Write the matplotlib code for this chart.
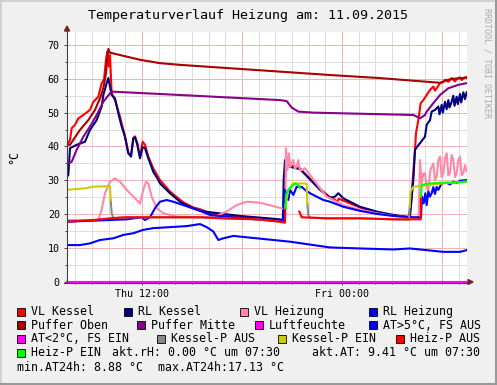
import numpy as np
import matplotlib
matplotlib.use('Agg')
import matplotlib.pyplot as plt
from matplotlib.lines import Line2D
from matplotlib.patches import Rectangle, Polygon

plt.rcParams['font.family'] = 'DejaVu Sans Mono'

W, H = 497, 385
nan = np.nan

title = 'Temperaturverlauf Heizung am: 11.09.2015'
x_ticks = [12, 24]
x_labels = ['Thu 12:00', 'Fri 00:00']
y_ticks = [0, 10, 20, 30, 40, 50, 60, 70]

# (hours since Thu 00:00, degC)
vl_kessel = [(7.50, 40.5), (7.58, 41.0), (7.68, 41.9), (7.78, 45.4), (7.98, 46.4), (8.18, 48.3), (8.48, 49.3),
             (8.88, 50.8), (9.08, 53.2), (9.38, 54.7), (9.58, 58.7), (9.72, 59.7), (9.84, 65.6), (9.92, 68.0),
             (10.00, 63.6), (10.08, 67.0), (10.18, 55.7), (10.38, 53.7), (10.68, 48.8), (10.98, 42.9),
             (11.18, 38.0), (11.34, 37.5), (11.48, 42.5), (11.58, 43.0), (11.72, 41.0), (11.88, 37.0),
             (12.04, 41.4), (12.18, 40.5), (12.38, 37.0), (12.68, 33.5), (13.08, 30.1), (13.68, 26.7),
             (14.48, 23.5), (15.08, 22.0), (15.48, 21.5), (16.08, 20.3), (17.28, 19.5), (18.88, 18.8),
             (20.28, 18.3), (20.50, 18.3), (20.56, 26.2), (20.62, 35.0), (20.88, 34.5), (21.48, 33.5),
             (21.98, 31.0), (22.68, 27.5), (23.28, 25.0), (23.58, 24.3), (23.72, 23.6), (23.80, 24.6),
             (24.08, 24.0), (25.08, 22.0), (26.08, 20.5), (27.08, 19.7), (27.98, 19.2), (28.12, 22.2),
             (28.38, 39.0), (28.44, 43.9), (28.58, 47.8), (28.72, 52.8), (28.88, 53.7), (29.08, 55.2),
             (29.28, 56.7), (29.48, 57.7), (29.58, 56.5), (29.68, 57.2), (29.88, 58.7), (30.08, 59.0),
             (30.18, 59.7), (30.38, 59.1), (30.58, 60.2), (30.78, 59.2), (30.88, 59.9), (31.08, 60.4),
             (31.18, 59.6), (31.32, 60.3), (31.48, 60.5)]

rl_kessel = [(7.50, 31.0), (7.58, 31.6), (7.68, 39.5), (8.08, 40.5), (8.58, 41.4), (8.88, 44.9), (9.28, 47.8),
             (9.58, 51.8), (9.68, 55.2), (9.88, 58.7), (9.98, 60.2), (10.08, 57.7), (10.18, 55.2), (10.38, 54.2),
             (10.58, 49.8), (10.78, 45.9), (10.98, 42.9), (11.18, 38.0), (11.34, 37.0), (11.48, 42.4),
             (11.58, 42.7), (11.72, 40.5), (11.88, 36.5), (12.04, 39.8), (12.18, 39.5), (12.38, 36.5),
             (12.68, 32.5), (12.98, 30.1), (13.08, 29.1), (13.68, 26.2), (14.28, 23.7), (14.88, 22.2),
             (15.48, 21.0), (16.08, 20.6), (17.88, 19.5), (20.28, 18.5), (20.45, 18.3), (20.50, 30.1),
             (20.58, 36.0), (20.88, 34.0), (21.48, 33.3), (21.98, 30.8), (22.68, 27.2), (23.28, 24.9),
             (23.58, 25.2), (23.78, 26.2), (24.08, 24.7), (25.08, 22.2), (26.08, 20.8), (27.08, 19.8),
             (27.98, 19.1), (28.08, 19.3), (28.28, 30.1), (28.38, 39.0), (28.52, 40.0), (28.68, 41.0),
             (28.98, 42.9), (29.08, 46.4), (29.28, 47.8), (29.38, 50.3), (29.58, 50.8), (29.78, 51.8),
             (29.85, 49.5), (29.98, 52.3), (30.05, 50.0), (30.18, 53.2), (30.28, 51.0), (30.38, 53.7),
             (30.45, 51.5), (30.58, 53.2), (30.68, 55.0), (30.75, 52.0), (30.88, 54.7), (30.95, 52.5),
             (31.08, 55.5), (31.15, 53.0), (31.28, 56.0), (31.38, 54.0), (31.48, 56.0)]

vl_heizung = [(7.50, 18.3), (9.38, 18.3), (9.58, 21.3), (9.78, 26.2), (10.08, 29.6), (10.38, 30.6), (10.68, 29.6),
              (11.08, 27.2), (11.48, 25.2), (11.88, 23.2), (12.08, 27.2), (12.24, 29.6), (12.38, 29.1),
              (12.58, 25.2), (12.88, 21.8), (13.28, 20.3), (14.08, 19.3), (15.48, 19.1), (16.48, 19.5),
              (17.08, 20.8), (17.68, 22.7), (18.28, 23.7), (19.08, 23.4), (19.88, 22.4), (20.48, 21.6),
              (20.60, 21.6), (20.64, 39.5), (20.72, 33.0), (20.82, 38.0), (20.90, 34.0), (20.98, 35.0),
              (21.08, 36.0), (21.18, 33.5), (21.28, 34.0), (21.38, 36.0), (21.48, 33.0), (21.58, 33.0),
              (21.78, 33.6), (22.08, 31.6), (22.68, 27.7), (23.08, 25.2), (24.08, 22.7), (25.08, 21.3),
              (26.08, 20.3), (27.08, 19.5), (27.98, 19.1), (28.60, 19.1), (28.68, 36.0), (28.78, 29.1),
              (28.88, 32.0), (28.98, 32.1), (29.08, 28.0), (29.18, 26.7), (29.30, 33.0), (29.48, 35.0),
              (29.58, 30.0), (29.68, 31.1), (29.78, 36.0), (29.88, 37.0), (29.98, 31.0), (30.08, 32.1),
              (30.18, 36.5), (30.28, 38.0), (30.38, 31.5), (30.48, 32.1), (30.58, 37.5), (30.68, 36.0),
              (30.78, 31.0), (30.88, 32.1), (30.98, 36.0), (31.08, 37.0), (31.18, 31.5), (31.28, 32.1),
              (31.38, 34.5), (31.48, 32.6)]

rl_heizung = [(7.50, 17.8), (9.08, 18.1), (11.08, 18.5), (11.98, 19.1), (12.18, 18.3), (12.48, 19.1),
              (12.78, 21.8), (13.08, 23.7), (13.48, 24.2), (13.88, 23.7), (14.48, 22.7), (15.48, 21.0),
              (16.08, 19.8), (17.88, 18.8), (20.28, 18.1), (20.50, 18.1), (20.56, 27.2), (20.78, 24.2),
              (20.88, 27.2), (21.08, 25.7), (21.28, 28.1), (21.58, 28.1), (21.78, 27.2), (22.08, 26.2),
              (22.88, 24.2), (23.28, 23.7), (24.08, 22.2), (25.08, 21.0), (26.08, 20.1), (27.08, 19.5),
              (28.28, 19.1), (28.74, 19.1), (28.80, 25.2), (28.90, 23.2), (29.00, 26.2), (29.08, 22.7),
              (29.18, 26.7), (29.28, 25.2), (29.38, 26.2), (29.48, 28.0), (29.58, 26.0), (29.68, 28.1),
              (29.78, 27.2), (29.98, 29.1), (30.28, 29.3), (30.48, 28.8), (30.68, 29.6), (30.88, 29.2),
              (31.08, 29.9), (31.48, 30.1)]

puffer_oben = [(7.50, 40.5), (7.68, 40.5), (8.28, 44.9), (8.78, 47.8), (9.18, 50.8), (9.48, 54.2), (9.68, 57.2),
               (9.84, 61.6), (9.92, 66.5), (9.98, 68.8), (10.08, 67.7), (10.68, 67.0), (11.88, 65.6),
               (13.08, 64.6), (14.28, 64.1), (17.28, 63.1), (20.28, 62.1), (23.28, 61.1), (26.28, 60.2),
               (29.88, 58.8), (30.28, 59.6), (30.68, 60.0), (31.48, 60.3)]

puffer_mitte = [(7.50, 35.0), (7.58, 35.0), (7.78, 35.5), (8.08, 39.0), (8.48, 42.9), (8.88, 45.9), (9.28, 49.3),
                (9.68, 53.2), (10.08, 55.7), (10.18, 56.2), (13.08, 55.5), (14.28, 55.2), (20.28, 53.7),
                (20.68, 53.4), (20.98, 51.5), (21.38, 50.3), (22.28, 50.0), (28.28, 49.3), (28.58, 48.6),
                (28.68, 48.3), (28.98, 49.3), (29.08, 50.3), (29.48, 52.8), (29.88, 55.2), (30.38, 57.2),
                (30.98, 58.2), (31.48, 58.7)]

luftfeuchte = [(7.5, 0.0), (31.5, 0.0)]

aussen = [(7.50, 10.9), (8.28, 10.9), (8.88, 11.4), (9.48, 12.4), (10.28, 12.9), (10.88, 13.9), (11.48, 14.4),
          (12.08, 15.4), (12.68, 15.9), (14.68, 16.5), (15.48, 17.1), (15.88, 16.2), (16.28, 14.9),
          (16.58, 12.4), (16.88, 12.9), (17.48, 13.6), (18.88, 12.9), (20.88, 11.9), (23.28, 10.2),
          (25.08, 9.9), (27.08, 9.6), (28.08, 9.9), (29.08, 9.4), (30.08, 8.9), (31.08, 8.9), (31.48, 9.4)]

kessel_p_aus = [(10.12, 24.2), (10.18, 20.3), (10.28, 18.9), (11.08, 19.1), (15.48, 19.1), (16.88, 18.8),
                (18.88, 18.5), (20.28, 17.8), (20.50, 17.6), (nan, nan),
                (21.92, 23.2), (21.98, 19.6), (22.08, 19.0), (23.08, 18.8), (25.08, 18.8), (27.08, 18.5),
                (28.02, 18.4), (28.06, 22.2)]

kessel_p_ein = [(7.50, 27.2), (8.68, 27.7), (8.98, 28.1), (10.08, 28.3), (10.12, 24.2), (nan, nan),
                (20.58, 21.8), (20.78, 27.2), (21.08, 29.1), (21.68, 29.1), (21.88, 29.0), (21.92, 23.2),
                (nan, nan), (28.06, 22.2), (28.12, 26.7), (28.28, 28.1), (28.68, 28.3), (29.48, 28.8),
                (30.48, 29.3), (31.48, 29.6)]

heiz_p_aus = [(7.50, 17.8), (9.08, 18.3), (10.08, 18.8), (11.08, 19.1), (15.48, 19.1), (16.88, 18.8),
              (18.88, 18.5), (20.28, 17.8), (20.58, 17.5), (20.60, 21.8), (nan, nan),
              (21.44, 20.8), (21.58, 19.1), (23.08, 18.8), (25.08, 18.8), (27.08, 18.5), (28.72, 18.5),
              (28.74, 25.2)]

heiz_p_ein = [(20.60, 21.8), (20.64, 25.7), (20.78, 27.2), (20.98, 28.3), (21.18, 29.1), (21.38, 28.6),
              (21.48, 27.7), (nan, nan), (28.74, 25.2), (28.78, 28.6), (29.08, 29.0), (29.88, 29.3),
              (30.68, 29.3), (31.48, 29.7)]

series = [
    ('VL Kessel', '#FF0000', vl_kessel),
    ('RL Kessel', '#000080', rl_kessel),
    ('VL Heizung', '#FF88AA', vl_heizung),
    ('RL Heizung', '#0000FF', rl_heizung),
    ('Puffer Oben', '#AA0000', puffer_oben),
    ('Puffer Mitte', '#880088', puffer_mitte),
    ('Luftfeuchte', '#FF00FF', luftfeuchte),
    ('AT>5°C, FS AUS', '#0000FF', aussen),
    ('AT<2°C, FS EIN', '#FF00FF', None),
    ('Kessel-P AUS', '#888888', kessel_p_aus),
    ('Kessel-P EIN', '#CCCC00', kessel_p_ein),
    ('Heiz-P AUS', '#FF0000', heiz_p_aus),
    ('Heiz-P EIN', '#00FF00', heiz_p_ein),
]


def fx(px):
    return px / W


def fy(py):
    return 1 - py / H


fig = plt.figure(figsize=(W / 100, H / 100), dpi=100, facecolor='#F0F0F0')
ax = fig.add_axes([fx(67), fy(282), (467 - 67) / W, (282 - 32) / H])
ax.set_facecolor('white')
ax.set_xlim(7.5, 31.5)
ax.set_ylim(0, 73.8)
for s in ax.spines.values():
    s.set_visible(False)

# grid like rrdtool: minor every hour / 5 deg, major every 6 h / 10 deg
for h in range(8, 32):
    ax.axvline(h, color='#efb4b4' if h % 6 == 0 else '#dddddd', lw=0.75, zorder=0)
for v in range(5, 74, 5):
    ax.axhline(v, color='#efb4b4' if v % 10 == 0 else '#dddddd', lw=0.75, zorder=0)

for i, (label, col, data) in enumerate(series):
    if data is None:
        continue
    arr = np.array(data, dtype=float)
    ax.plot(arr[:, 0], arr[:, 1], color=col, lw=1.5, zorder=2 + i,
            clip_on=(label != 'Luftfeuchte'))

ax.set_xticks(x_ticks)
ax.set_xticklabels(x_labels)
ax.set_xticks(range(8, 32), minor=True)
ax.set_yticks(y_ticks)
ax.set_yticklabels([str(v) for v in y_ticks])
ax.set_yticks(range(5, 74, 10), minor=True)
ax.tick_params(which='both', direction='out', color='#404040', width=0.7, labelsize=7.2, pad=3)
ax.tick_params(which='major', length=2.2)
ax.tick_params(which='minor', length=1.5)

# axes with arrows (bottom axis drawn below the plot so the 0-line stays visible)
fig.add_artist(Line2D([fx(67), fx(67)], [fy(282), fy(29)], color='#404040', lw=0.8))
fig.add_artist(Line2D([fx(64), fx(469)], [fy(282.5), fy(282.5)], color='#404040', lw=0.8, zorder=-1))
fig.add_artist(Polygon([[fx(64.5), fy(31)], [fx(69.5), fy(31)], [fx(67), fy(26)]],
                       closed=True, color='#7F1F1F', transform=fig.transFigure))
fig.add_artist(Polygon([[fx(468), fy(279.5)], [fx(468), fy(284.5)], [fx(473), fy(282)]],
                       closed=True, color='#7F1F1F', transform=fig.transFigure))

fig.text(fx(248), fy(16), title, ha='center', va='center', fontsize=9.6)
fig.text(fx(14), fy(157), '°C', rotation=90, ha='center', va='center', fontsize=8.4)
fig.text(fx(487), fy(8), 'RRDTOOL / TOBI OETIKER', rotation=270, ha='center', va='top',
         fontsize=6, color='#AAAAAA')

# legend
legend_rows = [
    ([0, 1, 2, 3], [17, 124, 240, 369], 311.7),
    ([4, 5, 6, 7], [17, 137, 255, 369], 325.2),
    ([8, 9, 10, 11], [17, 157, 278, 396], 339.0),
    ([12], [17], 352.8),
]
for idx, xs, y in legend_rows:
    for i, x in zip(idx, xs):
        label, col, _ = series[i]
        fig.add_artist(Rectangle((fx(x), fy(y + 4)), 8 / W, 8 / H, facecolor=col,
                                 edgecolor='black', lw=0.6, transform=fig.transFigure))
        fig.text(fx(x + 14), fy(y), label, ha='left', va='center', fontsize=8.4)

info = [
    (112, 352.8, 'akt.rH: 0.00 °C um 07:30'),
    (312, 352.8, 'akt.AT: 9.41 °C um 07:30'),
    (17, 367.7, 'min.AT24h: 8.88 °C'),
    (158, 367.7, 'max.AT24h:17.13 °C'),
]
for x, y, txt in info:
    fig.text(fx(x), fy(y), txt, ha='left', va='center', fontsize=8.4)

# frame shading
fig.add_artist(Line2D([0, 1], [fy(0.5), fy(0.5)], color='#CBCBCB', lw=1.2))
fig.add_artist(Line2D([fx(0.5), fx(0.5)], [0, 1], color='#CBCBCB', lw=1.2))
fig.add_artist(Line2D([0, 1], [fy(384), fy(384)], color='#999999', lw=1.5))
fig.add_artist(Line2D([fx(496), fx(496)], [0, 1], color='#999999', lw=1.5))

fig.savefig('out.png', dpi=100, facecolor=fig.get_facecolor())
